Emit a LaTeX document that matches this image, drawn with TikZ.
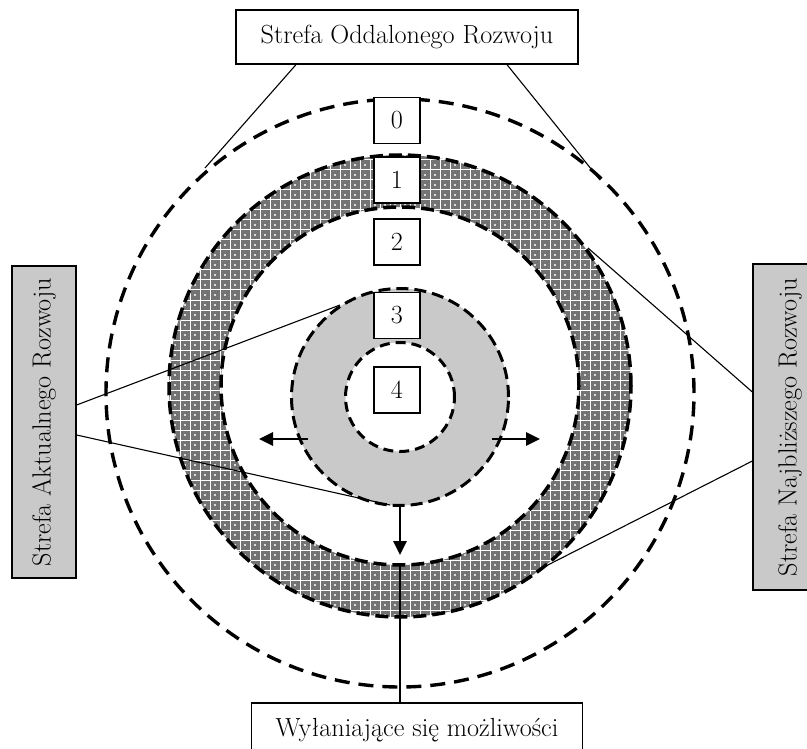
\documentclass[tikz,border=0pt]{standalone}
\usepackage{fontspec}
\usetikzlibrary{arrows.meta,calc}
\begin{document}
\begin{tikzpicture}[x=1pt,y=-1pt,
 lbl/.style={font=\fontsize{26.2pt}{30pt}\selectfont},
 framebox/.style={draw,line width=1.3pt,fill=white,inner sep=0pt,lbl},
 numbox/.style={framebox,minimum width=46pt,minimum height=46pt},
 sidebox/.style={draw,line width=1.3pt,fill=black!21,inner sep=0pt,lbl},
 ringline/.style={dash pattern=on 13pt off 6pt,line width=3pt},
 conn/.style={line width=1.1pt},
 push/.style={line width=2.6pt,-{Triangle[length=14pt,width=13pt]}}]
\useasboundingbox (0,0) rectangle (807,749);
\fill[white] (0,0) rectangle (807,749);

% outer dashed circle (zone 0)
\draw[dash pattern=on 15pt off 9pt,line width=3.4pt] (400,393) circle[radius=294pt];

% hatched ring (zone 1)
\begin{scope}[even odd rule]
\clip (400,386) circle[radius=231pt] (400,386) circle[radius=179pt];
\fill[black!55] (160,150) rectangle (640,620);
\draw[white,line width=1pt,step=10pt] (160,150) grid (640,620);
\foreach \xx in {165,175,...,635}{
  \foreach \yy in {155,165,...,615}{
    \fill[white] (\xx,\yy) circle[radius=1.2pt];
  }
}
\end{scope}
\draw[ringline,line width=3.5pt] (400,386) circle[radius=231pt];
\draw[ringline,line width=3.5pt] (400,386) circle[radius=179pt];

% gray ring (zone 3) and inner white (zone 4)
\fill[black!21] (400,397) circle[radius=108.5pt];
\fill[white] (400,397) circle[radius=54.5pt];
\draw[ringline,dash pattern=on 12pt off 6pt] (400,397) circle[radius=108.5pt];
\draw[ringline,dash pattern=on 10pt off 6pt] (400,397) circle[radius=54.5pt];

% label boxes
\node[framebox,minimum width=342pt,minimum height=54pt] (top) at (407,37) {Strefa Oddalonego Rozwoju};
\node[sidebox,minimum width=64pt,minimum height=312pt] (lbox) at (44,422) {\rotatebox{90}{Strefa Aktualnego Rozwoju}};
\node[sidebox,minimum width=74pt,minimum height=326pt] (rbox) at (790,427) {\rotatebox{90}{Strefa Najbliższego Rozwoju}};
\node[framebox,minimum width=331pt,minimum height=54pt] (bot) at (417,730) {Wyłaniające się możliwości};

% connector end points
\coordinate (oTL) at (205,168);
\coordinate (oTR) at (600,180);
\coordinate (gTop) at (340,305);
\coordinate (gBot) at (390,505);
\coordinate (hUR) at (588,248);
\coordinate (hLR) at (538,570);
\coordinate (hB) at (400,566);

\draw[conn] ([xshift=-111pt]top.south) -- (oTL);
\draw[conn] ([xshift=100pt]top.south) -- (oTR);
\draw[conn] ([yshift=17pt]lbox.east) -- (gTop);
\draw[conn] ([yshift=-13pt]lbox.east) -- (gBot);
\draw[conn] ([yshift=35pt]rbox.west) -- (hUR);
\draw[conn] ([yshift=-34pt]rbox.west) -- (hLR);
\draw[conn] (hB) -- (hB |- bot.north);

% number boxes
\node[numbox] (n0) at (397,120.5) {0};
\node[numbox] (n1) at (397,180) {1};
\node[numbox] (n2) at (397,242) {2};
\node[numbox] (n3) at (397,315.5) {3};
\node[numbox] (n4) at (397,390) {4};

% arrows
\coordinate (aL1) at (308,439);
\coordinate (aL2) at (259,439);
\coordinate (aR1) at (492,439);
\coordinate (aR2) at (540,439);
\coordinate (aD1) at (400,505);
\coordinate (aD2) at (400,555);
\draw[push] (aL1) -- (aL2);
\draw[push] (aR1) -- (aR2);
\draw[push] (aD1) -- (aD2);
\end{tikzpicture}
\end{document}
